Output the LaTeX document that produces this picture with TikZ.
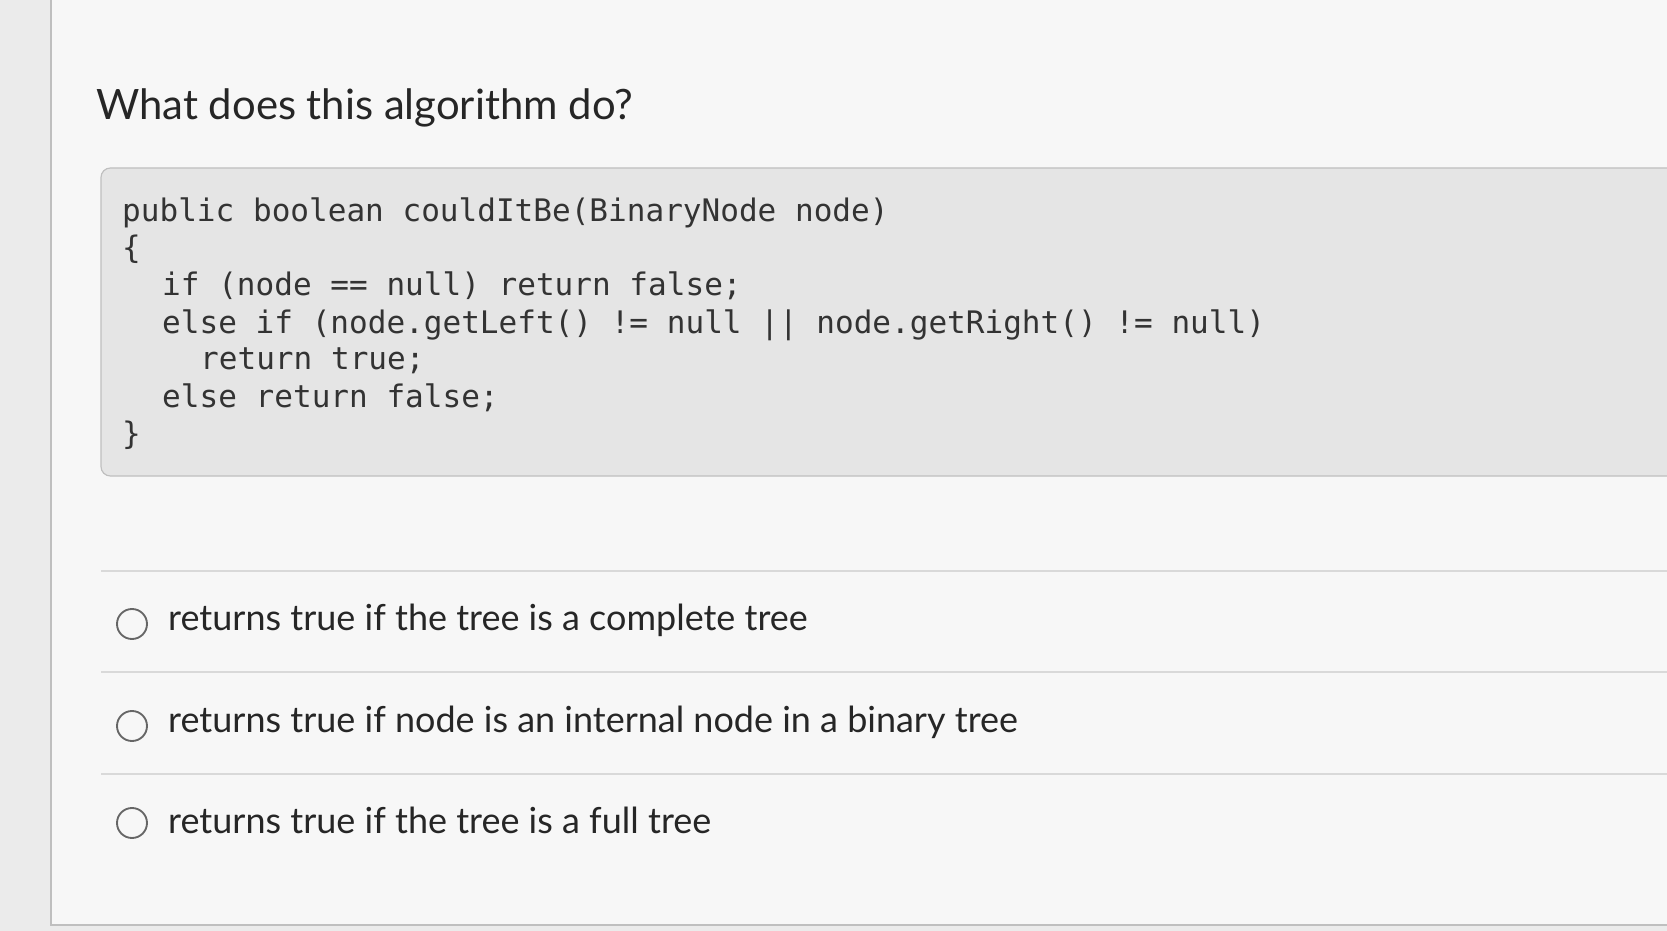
\documentclass[tikz,border=0pt]{standalone}
\usepackage{fontspec}
\setmainfont{Lato}
\setmonofont{DejaVu Sans Mono}
\begin{document}
\begin{tikzpicture}[x=0.03cm,y=-0.03cm,
  code/.style={anchor=base west,inner sep=0,font=\ttfamily\fontsize{26.5}{30}\selectfont,text=black!80},
  opt/.style={anchor=base west,inner sep=0,font=\fontsize{30.7}{36}\selectfont,text=black!85},
  radio/.style={circle,draw=black!60,line width=1.6pt,minimum size=0.9cm,inner sep=0},
  sep/.style={draw=black!15,line width=1pt}]
\useasboundingbox (0,0) rectangle (1667,931);
\fill[black!8] (0,0) rectangle (1667,931);
\fill[black!3] (51,-5) rectangle (1672,925);
\draw[black!25,line width=1pt] (51,-5) -- (51,925) -- (1672,925);
\node[anchor=base west,inner sep=0,font=\fontsize{35.7}{42}\selectfont,text=black!85] (title) at (96,120) {What does this algorithm do?};
\draw[rounded corners=8pt,fill=black!10,draw=black!25,line width=1pt] (101,168) rectangle (1690,476);
\node[code] (c1) at (122,222) {public boolean couldItBe(BinaryNode node)};
\node[code] (c2) at (122,259) {\{};
\node[code] (c3) at (162,296) {if (node == null) return false;};
\node[code] (c4) at (162,333) {else if (node.getLeft() != null || node.getRight() != null)};
\node[code] (c5) at (200,370) {return true;};
\node[code] (c6) at (162,407) {else return false;};
\node[code] (c7) at (122,444) {\}};
\draw[sep] (101,571) -- (1667,571);
\draw[sep] (101,672) -- (1667,672);
\draw[sep] (101,774) -- (1667,774);
\node[radio] (r1) at (132,624) {};
\node[radio] (r2) at (132,726) {};
\node[radio] (r3) at (132,823) {};
\node[opt] (o1) at (168,630) {returns true if the tree is a complete tree};
\node[opt] (o2) at (168,732) {returns true if node is an internal node in a binary tree};
\node[opt] (o3) at (168,833) {returns true if the tree is a full tree};
\end{tikzpicture}
\end{document}
